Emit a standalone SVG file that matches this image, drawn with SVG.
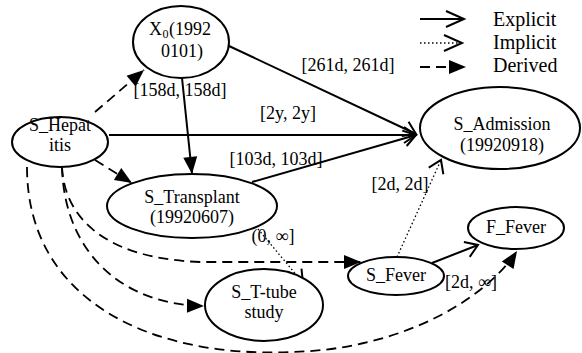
<svg xmlns="http://www.w3.org/2000/svg" width="582" height="353" viewBox="0 0 582 353">
<style>
  .node ellipse { fill: #fff; stroke: #000; stroke-width: 2; }
  text { font-family: "Liberation Serif", "Times New Roman", serif; font-size: 18px; fill: #000; text-anchor: middle; }
  .legend text { font-size: 20px; text-anchor: start; }
  .start { text-anchor: start; }
  .sub { font-size: 12px; }
  .explicit { fill: none; stroke: #000; stroke-width: 2; }
  .implicit { fill: none; stroke: #000; stroke-width: 1.3; stroke-dasharray: 1.5 2.5; }
  .derived { fill: none; stroke: #000; stroke-width: 1.8; stroke-dasharray: 10 6; }
</style>
<defs>
  <marker id="open" markerUnits="userSpaceOnUse" markerWidth="30" markerHeight="30" viewBox="-15 -15 30 30" refX="0" refY="0" orient="auto">
    <path d="M-12,-8 L0,0 L-12,8" fill="none" stroke="#000" stroke-width="2"/>
  </marker>
  <marker id="openL" markerUnits="userSpaceOnUse" markerWidth="40" markerHeight="40" viewBox="-20 -20 40 40" refX="0" refY="0" orient="auto">
    <path d="M-18,-8 L0,0 L-18,8" fill="none" stroke="#000" stroke-width="2"/>
  </marker>
  <marker id="filled" markerUnits="userSpaceOnUse" markerWidth="30" markerHeight="30" viewBox="-20 -15 30 30" refX="0" refY="0" orient="auto">
    <path d="M-17,-7 L0,0 L-17,7 Z" fill="#000" stroke="none"/>
  </marker>
</defs>
<rect width="582" height="353" fill="#fff"/>

<g id="connectors">
  <path class="explicit" d="M229,46 L416,134" marker-end="url(#open)"/>
  <path class="explicit" d="M109,135 L416,135" marker-end="url(#open)"/>
  <path class="explicit" d="M252,182 L416,135" marker-end="url(#open)"/>
  <path class="explicit" d="M432,263 L478,245" marker-end="url(#open)"/>
  <path class="explicit" d="M182,78 L192,174" marker-end="url(#filled)"/>
  <path class="implicit" d="M397,257 L441,160" marker-end="url(#open)"/>
  <path class="implicit" d="M258,229 L303,283" marker-end="url(#open)"/>
  <path class="derived" d="M95,112 L144,70" marker-end="url(#filled)"/>
  <path class="derived" d="M95,160 L132,183" marker-end="url(#filled)"/>
  <path class="derived" d="M62,167 C64,210 95,258 200,262 L361,262" marker-end="url(#filled)"/>
  <path class="derived" d="M62,167 C64,250 120,305 204,306" marker-end="url(#filled)"/>
  <path class="derived" d="M27,167 C27,300 150,358 290,352 C400,350 485,300 517,251" marker-end="url(#filled)"/>
  <text x="348" y="71">[261d, 261d]</text>
  <text x="288" y="119">[2y, 2y]</text>
  <text x="276" y="165">[103d, 103d]</text>
  <text x="180" y="96">[158d, 158d]</text>
  <text x="400" y="190">[2d, 2d]</text>
  <text x="471" y="288">[2d, ∞]</text>
  <text x="273" y="242">(0, ∞]</text>
</g>

<g id="X0" class="node">
  <ellipse cx="181" cy="42" rx="48" ry="36"/>
  <text class="start" x="149" y="35">X</text>
  <text class="start sub" x="162.5" y="38">0</text>
  <text class="start" x="169" y="35">(1992</text>
  <text x="182" y="57">0101)</text>
</g>
<g id="S_Hepatitis" class="node">
  <ellipse cx="60" cy="142" rx="48" ry="25"/>
  <text x="60" y="131">S_Hepat</text>
  <text x="60" y="151">itis</text>
</g>
<g id="S_Admission" class="node">
  <ellipse cx="500" cy="128" rx="80" ry="41"/>
  <text x="502" y="130">S_Admission</text>
  <text x="502" y="151">(19920918)</text>
</g>
<g id="S_Transplant" class="node">
  <ellipse cx="192" cy="206" rx="85" ry="32"/>
  <text x="192" y="203">S_Transplant</text>
  <text x="192" y="223">(19920607)</text>
</g>
<g id="S_T-tube" class="node">
  <ellipse cx="264" cy="305" rx="59" ry="36"/>
  <text x="264" y="298">S_T-tube</text>
  <text x="264" y="318">study</text>
</g>
<g id="S_Fever" class="node">
  <ellipse cx="396" cy="276" rx="48" ry="19"/>
  <text x="396" y="281">S_Fever</text>
</g>
<g id="F_Fever" class="node">
  <ellipse cx="516" cy="228" rx="48" ry="21"/>
  <text x="516" y="233">F_Fever</text>
</g>

<g id="legend" class="legend">
  <path class="explicit" d="M420,19 L464,19" marker-end="url(#openL)"/>
  <path class="implicit" d="M420,43 L462,43" marker-end="url(#openL)"/>
  <path class="derived" d="M420,67 L466,67" marker-end="url(#filled)"/>
  <text x="493" y="26">Explicit</text>
  <text x="493" y="49">Implicit</text>
  <text x="493" y="72">Derived</text>
</g>
</svg>
